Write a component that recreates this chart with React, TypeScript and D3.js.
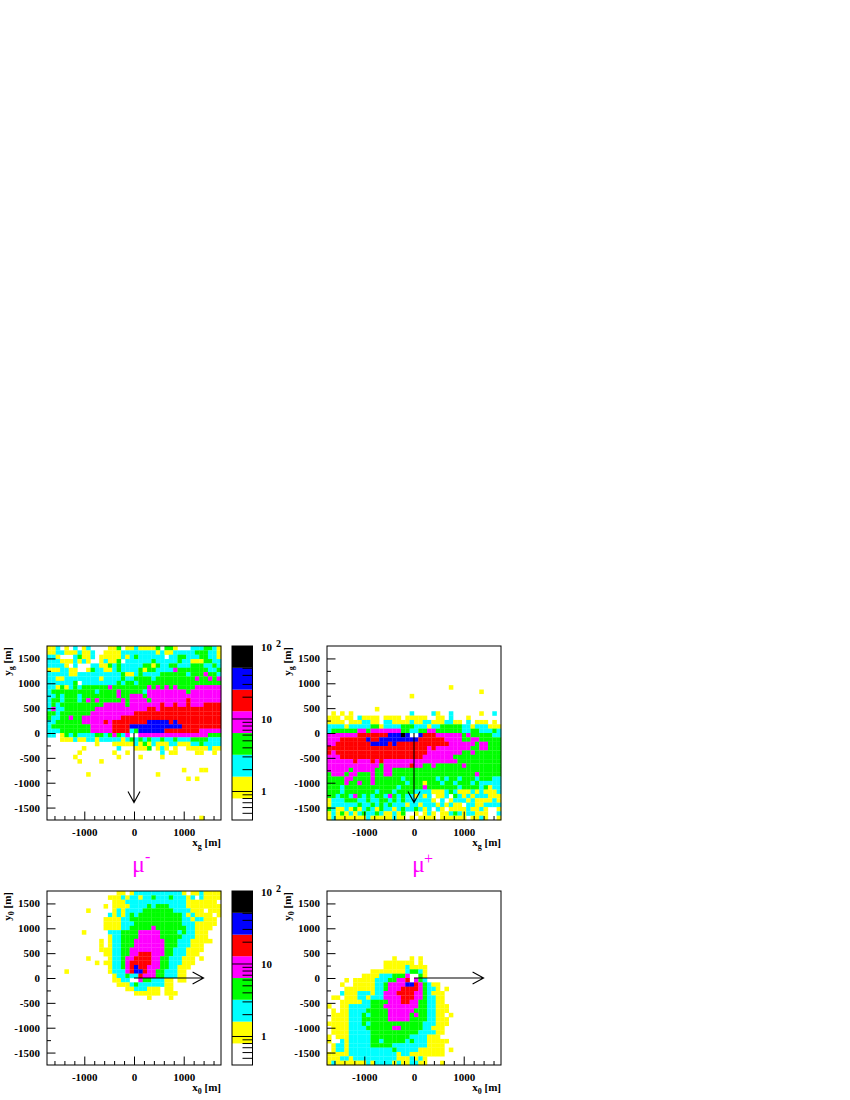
import React, { useEffect, useRef } from 'react';
import * as d3 from 'd3';

const width = 850;
const height = 1100;
const font = '"Liberation Serif", serif';

// each digit is the colour band of one bin (0 = white ... 7 = black), top row first
const emptyRow = '0'.repeat(40);

const muMinusGround = [
  '1120102012 0000113011 2111130331 0002223321',
  '1122111211 2001111222 2222212112 2222333221',
  '2210002311 2011111212 3222222022 3322233221',
  '2221112121 0012113022 2222322222 3221113322',
  '2222102000 2211323222 2233132233 2223332232',
  '1112211001 3221123222 2313322224 3333333223',
  '2222211222 2222222311 2322223333 3323334332',
  '2211222222 2212222322 3333233333 3333433434',
  '2222223022 2222223233 2333333333 3333333333',
  '2213123233 3333433333 3334343434 3333444444',
  '2333333333 3233334333 3324444444 4434444444',
  '2232333233 3333334334 4434444444 4444444444',
  '2332333234 3433333434 4443444444 4454444444',
  '2323333333 3334444434 4444445445 4454445555',
  '2422333333 3444444444 4445545555 5555555555',
  '3323333333 4444444444 5555555555 5555555555',
  '3223343344 4444444555 5555555555 5555555555',
  '2233333344 4445455555 5556666656 5555555555',
  '2333333333 4444455556 6666666666 6555555555',
  '2223333333 4444455552 3666666555 5555544444',
  '2201323222 2332343240 0444444444 4444444333',
  '0001112112 2122222123 2323223223 2223333222',
  '0000000000 0100011111 2131211122 1112232222',
  '0000000010 0000002000 1113012101 0011111211',
  '0000000100 0000010010 0000002011 0000110010',
  '0000001000 0000001000 0100001000 0000000000',
  '0000000100 0010000000 0000000000 0000000000',
  emptyRow,
  '0000000000 0000000000 0000000000 0100011000',
  '0000000001 0000000000 0000010000 0000000000',
  '0000000000 0000000000 0000000000 0010100000',
  emptyRow,
  emptyRow,
  emptyRow,
  emptyRow,
  emptyRow,
  emptyRow,
  emptyRow,
  emptyRow,
  '0000000000 0000000000 0000000000 0000010000',
];

const muPlusGround = [
  emptyRow,
  emptyRow,
  emptyRow,
  emptyRow,
  emptyRow,
  emptyRow,
  emptyRow,
  emptyRow,
  emptyRow,
  '0000000000 0000000000 0000000010 0000000000',
  '0000000000 0000000000 0000000000 0000010000',
  '0000000000 0000000001 0000000000 0000000000',
  emptyRow,
  emptyRow,
  '0000000000 0100000000 0000000000 0000000000',
  '0101010000 0000000002 0000210020 0000010020',
  '1110110211 1101111011 1110011020 0010000000',
  '1111011122 1102211112 1122111221 1020111010',
  '2222122222 3312222333 2221223333 3221222111',
  '2333333443 4444444332 2334433333 3223322232',
  '4444444555 5555666760 0655544444 4343333322',
  '4445555556 5566666666 6555555444 4334433333',
  '4455555555 6666565555 5555555544 4444344333',
  '5555555555 5555555555 5554544444 4443344333',
  '5455555555 5555555555 5554444444 4334333333',
  '4445555555 5555555555 5544444443 3333333333',
  '4444445444 5454444444 4444444444 3333333333',
  '4444444444 4434444445 4433433333 3433333333',
  '4444434444 4334433333 3333333333 3333333333',
  '3444344333 4334433333 3333333333 3333433333',
  '3333443333 4333333233 3333323233 2333233322',
  '3333433433 4333333323 3313332332 3332322222',
  '3332333333 3333332333 3343333333 2333323122',
  '3332333333 3233323333 2222111232 1112121112',
  '3323324323 2332432322 1212011203 2121222111',
  '1222333223 2233232322 2222102012 2212111121',
  '1222222322 3232322212 2122212121 1022112222',
  '3211213123 2132212322 3212021011 1121121001',
  '1213121232 2321121300 1012101123 2122111002',
  '1211111112 1111121101 0111101111 1101121001',
];

const muMinusShower = [
  '0000000000 0000001101 2222222222 2101121111',
  '0000000000 0000111212 2122322232 2212021111',
  '0000000000 0000011122 2222222222 2211111110',
  '0000000000 0001011112 2223233322 2211111111',
  '0000000001 0000012122 2233333332 2221110111',
  '0000000000 0000212123 2333333333 3212111101',
  '0000000000 0001111223 3333333333 3221221110',
  '0000000000 0001111222 3333333333 3222111110',
  '0000000000 0001111223 3333433333 3322111100',
  '0000000010 0000222333 3444443333 2322111000',
  '0000000000 0000122333 3444443333 3222111000',
  '0000000000 0010122333 4444444333 2221111100',
  '0000000000 0010122333 4444444333 2221110000',
  '0000000000 0011122334 4444444332 2211110000',
  '0000000000 0001122334 4555444332 2211100000',
  '0000000001 0000122344 5555443322 2111010000',
  '0000000000 0101122345 5555443322 2111000000',
  '0000000000 0000122345 6554443322 1110000000',
  '0000100000 0000122245 6654433222 1100000000',
  '0000000000 0000012232 2544433222 1100000000',
  '0000000000 0000011220 0433222110 1100000000',
  '0000000000 0000001112 3222222110 0000000000',
  '0000000000 0000000011 2221110110 0000000000',
  '0000000000 0000000000 1111110111 0000000000',
  '0000000000 0000000000 0001000010 0000000000',
];

const muPlusShower = [
  emptyRow,
  emptyRow,
  emptyRow,
  emptyRow,
  emptyRow,
  emptyRow,
  emptyRow,
  emptyRow,
  emptyRow,
  emptyRow,
  emptyRow,
  emptyRow,
  emptyRow,
  emptyRow,
  emptyRow,
  '0000000000 0000010001 0100000000 0000000000',
  '0000000000 0001111111 0100000000 0000000000',
  '0000000000 0001111121 1110000000 0000000000',
  '0000000000 1111111123 3210000000 0000000000',
  '0000000011 1122233340 0310000000 0000000000',
  '0000101111 1222334450 4320000000 0000000000',
  '0001001111 1223444466 5432110000 0000000000',
  '0000111111 1223444555 5432210100 0000000000',
  '0002111222 1224445555 4432111000 0000000000',
  '0110111221 2224444555 4432211000 0000000000',
  '0001111122 3333444554 4332211000 0000000000',
  '1001122222 3334444444 4332211100 0000000000',
  '0101122223 3333444444 3332211100 0000000000',
  '0111122232 3333444443 4332211010 0000000000',
  '0111122233 3333444443 3332211100 0000000000',
  '1111122232 3333333333 3322211100 0000000000',
  '0111122223 3333344333 3322111000 0000000000',
  '0111122222 3333333333 3222211000 0000000000',
  '1011122222 3333333332 2221110000 0000000000',
  '1002122222 3323333323 2221111100 0000000000',
  '0122122222 3333322222 2221111000 0000000000',
  '0122122222 2222232222 2111111010 0000000000',
  '1111122222 2222221221 1111111000 0000000000',
  '1112212222 2222221112 1210000000 0000000000',
  '1211111112 1222212112 2110001000 0000000000',
];

const bandColors = ['#ffffff', '#ffff00', '#00ffff', '#00ff00', '#ff00ff', '#ff0000', '#0000ff', '#000000'];
const bandEdges = [0.398, 0.79, 1.58, 3.16, 6.3, 12.6, 25, 50, 100];
const barMajorTicks = [1, 10];
const barMinorTicks = [0.5, 0.6, 0.7, 0.8, 0.9, 2, 3, 4, 5, 6, 7, 8, 9, 20, 30, 40, 50, 60, 70, 80, 90];

const xLabelTicks = [-1000, 0, 1000];
const xMinorTicks = [-1600, -1400, -1200, -800, -600, -400, -200, 200, 400, 600, 800, 1200, 1400, 1600];
const yLabelTicks = [-1500, -1000, -500, 0, 500, 1000, 1500];
const yMinorTicks = [-1250, -750, -250, 250, 750, 1250];

const limit = 1750;
const panelSize = 174;
const tickMajor = 8.5;
const tickMinor = 4;

const styleAxis = (g: any) => {
  g.select('.domain').remove();
  g.selectAll('line').attr('stroke', '#000').attr('stroke-width', 1);
  g.selectAll('text')
    .attr('font-family', font)
    .attr('font-weight', 'bold')
    .attr('font-size', 11)
    .attr('fill', '#000');
};

const addUnitLabel = (text: any, base: string, sub: string) => {
  text
    .attr('font-family', font)
    .attr('font-weight', 'bold')
    .attr('font-size', 11)
    .attr('fill', '#000');
  text.append('tspan').text(base);
  text.append('tspan').attr('font-size', 8).attr('dy', 3).text(sub);
  text.append('tspan').attr('dy', -3).text('\u00a0[m]');
};

// one 2d histogram with its frame, ticks, axis names and arrow
const drawPanel = (svg: any, opts: any) => {
  const { left, top, rows, sub, arrow } = opts;
  const x = d3.scaleLinear().domain([-limit, limit]).range([left, left + panelSize]);
  const y = d3.scaleLinear().domain([-limit, limit]).range([top + panelSize, top]);
  const cell = panelSize / 40;

  const g = svg.append('g');
  rows.forEach((row: string, r: number) => {
    row
      .replace(/ /g, '')
      .split('')
      .forEach((level: string, c: number) => {
        if (level === '0') return;
        // small overlap so the bins do not show a white grid
        g.append('rect')
          .attr('x', left + c * cell)
          .attr('y', top + r * cell)
          .attr('width', cell + 0.2)
          .attr('height', cell + 0.2)
          .attr('fill', bandColors[+level]);
      });
  });

  // major ticks carry the labels, minor ones are short and blank
  svg
    .append('g')
    .attr('transform', `translate(0,${top + panelSize})`)
    .call(
      d3.axisBottom(x).tickValues(xLabelTicks).tickSizeInner(-tickMajor).tickSizeOuter(0).tickPadding(8).tickFormat((d: any) => String(d))
    )
    .call(styleAxis);
  svg
    .append('g')
    .attr('transform', `translate(0,${top + panelSize})`)
    .call(d3.axisBottom(x).tickValues(xMinorTicks).tickSizeInner(-tickMinor).tickSizeOuter(0).tickFormat(() => ''))
    .call(styleAxis);
  svg
    .append('g')
    .attr('transform', `translate(${left},0)`)
    .call(
      d3.axisLeft(y).tickValues(yLabelTicks).tickSizeInner(-tickMajor).tickSizeOuter(0).tickPadding(7).tickFormat((d: any) => String(d))
    )
    .call(styleAxis);
  svg
    .append('g')
    .attr('transform', `translate(${left},0)`)
    .call(d3.axisLeft(y).tickValues(yMinorTicks).tickSizeInner(-tickMinor).tickSizeOuter(0).tickFormat(() => ''))
    .call(styleAxis);

  svg
    .append('rect')
    .attr('x', left)
    .attr('y', top)
    .attr('width', panelSize)
    .attr('height', panelSize)
    .attr('fill', 'none')
    .attr('stroke', '#000')
    .attr('stroke-width', 1);

  addUnitLabel(
    svg.append('text').attr('x', left + panelSize).attr('y', top + panelSize + 26).attr('text-anchor', 'end'),
    'x',
    sub
  );
  addUnitLabel(
    svg
      .append('text')
      .attr('transform', `translate(${left - 36},${top + 1}) rotate(-90)`)
      .attr('text-anchor', 'end'),
    'y',
    sub
  );

  // arrow from the origin, barbs set back from the tip
  const x0 = x(0);
  const y0 = y(0);
  const tx = x(arrow[0]);
  const ty = y(arrow[1]);
  const ux = arrow[0] ? 1 : 0;
  const uy = arrow[1] ? 1 : 0;
  const path = d3.path();
  path.moveTo(x0, y0);
  path.lineTo(tx, ty);
  path.moveTo(tx - 11 * ux - 6 * uy, ty - 11 * uy - 6 * ux);
  path.lineTo(tx, ty);
  path.lineTo(tx - 11 * ux + 6 * uy, ty - 11 * uy + 6 * ux);
  svg.append('path').attr('d', path.toString()).attr('fill', 'none').attr('stroke', '#000').attr('stroke-width', 1.1);
};

const drawColorBar = (svg: any, top: number) => {
  const left = 232;
  const barWidth = 20.5;
  const y = d3.scaleLog().domain([100, 0.398]).range([top, top + panelSize]);

  bandColors.forEach((color, i) => {
    svg
      .append('rect')
      .attr('x', left)
      .attr('y', y(bandEdges[i + 1]))
      .attr('width', barWidth)
      .attr('height', y(bandEdges[i]) - y(bandEdges[i + 1]))
      .attr('fill', color);
  });

  svg
    .append('g')
    .attr('transform', `translate(${left + barWidth},0)`)
    .call(d3.axisRight(y).tickValues(barMinorTicks).tickSizeInner(-10).tickSizeOuter(0).tickFormat(() => ''))
    .call(styleAxis);
  svg
    .append('g')
    .attr('transform', `translate(${left + barWidth},0)`)
    .call(
      d3.axisRight(y).tickValues(barMajorTicks).tickSizeInner(-barWidth).tickSizeOuter(0).tickPadding(8.5).tickFormat((d: any) => String(d))
    )
    .call(styleAxis);

  svg
    .append('rect')
    .attr('x', left)
    .attr('y', top)
    .attr('width', barWidth)
    .attr('height', panelSize)
    .attr('fill', 'none')
    .attr('stroke', '#000')
    .attr('stroke-width', 1);

  const label = svg
    .append('text')
    .attr('x', left + barWidth + 8.5)
    .attr('y', y(100) + 4.5)
    .attr('font-family', font)
    .attr('font-weight', 'bold')
    .attr('font-size', 11)
    .attr('fill', '#000');
  label.append('tspan').text('10');
  label.append('tspan').attr('dx', 4).attr('dy', -4).attr('font-size', 10).text('2');
};

const drawMu = (svg: any, x: number, sign: string, signX: number, signY: number, signSize: number) => {
  svg
    .append('text')
    .attr('x', x)
    .attr('y', 872)
    .attr('font-family', font)
    .attr('font-size', 24)
    .attr('fill', '#ff00ff')
    .text('\u03bc');
  svg
    .append('text')
    .attr('x', signX)
    .attr('y', signY)
    .attr('font-family', font)
    .attr('font-size', signSize)
    .attr('fill', '#ff00ff')
    .text(sign);
};

const App = () => {
  const ref = useRef<SVGSVGElement>(null);

  useEffect(() => {
    const svg = d3.select(ref.current);
    svg.selectAll('*').remove();

    drawPanel(svg, { left: 47, top: 646, rows: muMinusGround, sub: 'g', arrow: [0, -1400] });
    drawPanel(svg, { left: 327, top: 646, rows: muPlusGround, sub: 'g', arrow: [0, -1400] });
    drawPanel(svg, { left: 47, top: 891, rows: muMinusShower, sub: '0', arrow: [1400, 0] });
    drawPanel(svg, { left: 327, top: 891, rows: muPlusShower, sub: '0', arrow: [1400, 0] });

    drawColorBar(svg, 646);
    drawColorBar(svg, 891);

    drawMu(svg, 132, '-', 145, 862, 16);
    drawMu(svg, 412, '+', 424, 864, 16);
  }, []);

  return (
    <svg
      ref={ref}
      width={width}
      height={height}
      style={{ position: 'absolute', left: 0, top: 0, background: '#fff' }}
    />
  );
};

export default App;
